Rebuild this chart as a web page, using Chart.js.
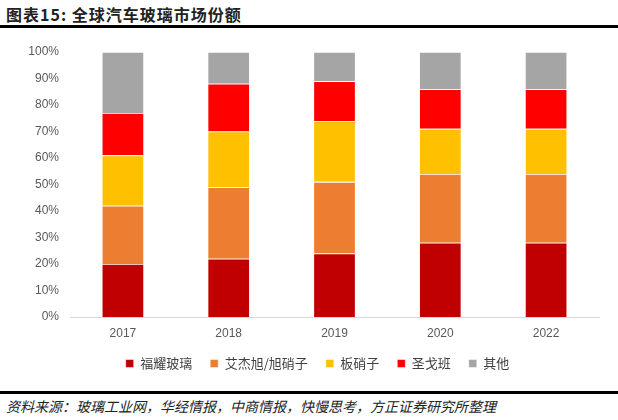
<!DOCTYPE html>
<html>
<head>
<meta charset="utf-8">
<script src="https://cdn.jsdelivr.net/npm/chart.js@4"></script>
<style>
  html, body { margin: 0; padding: 0; background: #fff; }
  body { width: 618px; height: 420px; position: relative; overflow: hidden; font-family: "Noto Sans CJK SC", sans-serif; }
  #title { position: absolute; left: 6px; top: 2px; font-size: 16px; font-weight: bold; color: #222; letter-spacing: 1px; white-space: nowrap; }
  #topline { position: absolute; left: 0; top: 25px; width: 618px; height: 3px; background: #000; }
  #botline { position: absolute; left: 0; top: 391px; width: 618px; height: 3px; background: #000; }
  #source { position: absolute; left: 6px; top: 396px; font-size: 14px; font-style: italic; color: #222; white-space: nowrap; }
  #wrap { position: absolute; left: 0; top: 30px; width: 618px; height: 350px; }
</style>
</head>
<body>
<div id="title">图表15: 全球汽车玻璃市场份额</div>
<div id="topline"></div>
<div id="wrap"><canvas id="c"></canvas></div>
<div id="botline"></div>
<div id="source">资料来源：玻璃工业网，华经情报，中商情报，快慢思考，方正证券研究所整理</div>
<script>
const categories = ["2017", "2018", "2019", "2020", "2022"];
const fuyao = [20, 22, 24, 28, 28];
const agc = [22, 27, 27, 26, 26];
const nsg = [19, 21, 23, 17, 17];
const saintGobain = [16, 18, 15, 15, 15];
const others = [23, 12, 11, 14, 14];
const seriesNames = ["福耀玻璃", "艾杰旭/旭硝子", "板硝子", "圣戈班", "其他"];
const seriesColors = ["#C00000", "#ED7D31", "#FFC000", "#FF0000", "#A5A5A5"];
const seriesData = [fuyao, agc, nsg, saintGobain, others];

const datasets = seriesData.map((d, i) => ({
  label: seriesNames[i],
  data: d,
  backgroundColor: seriesColors[i],
  borderColor: "rgba(255,255,255,0.6)",
  borderWidth: 0.8,
  categoryPercentage: 1,
  barPercentage: 0.4
}));

const legendShift = {
  id: "legendShift",
  afterLayout(chart) {
    if (chart.legend) { chart.legend.left += 18; chart.legend.right += 18; }
  }
};

new Chart(document.getElementById("c"), {
  type: "bar",
  data: { labels: categories, datasets },
  plugins: [legendShift],
  options: {
    responsive: true,
    maintainAspectRatio: false,
    animation: false,
    layout: { padding: { top: 22, right: 19, left: 0, bottom: 0 } },
    plugins: {
      legend: {
        position: "bottom",
        labels: {
          boxWidth: 8, boxHeight: 8, padding: 18,
          color: "#404040",
          font: { size: 13, family: "'Noto Sans CJK SC', sans-serif" }
        }
      },
      tooltip: { enabled: false }
    },
    scales: {
      x: {
        stacked: true,
        grid: { display: false },
        border: { color: "#d9d9d9" },
        afterFit: s => { s.height = 22; },
        ticks: { color: "#595959", font: { size: 12, family: "'Liberation Sans', Arial, sans-serif" }, padding: 1 }
      },
      y: {
        stacked: true,
        min: 0, max: 100,
        grid: { display: false },
        border: { display: false },
        afterFit: s => { s.width = 70; },
        ticks: {
          stepSize: 10,
          color: "#595959",
          padding: 3,
          font: { size: 12, family: "'Liberation Sans', Arial, sans-serif" },
          callback: v => v + "%"
        }
      }
    }
  }
});
</script>
</body>
</html>
